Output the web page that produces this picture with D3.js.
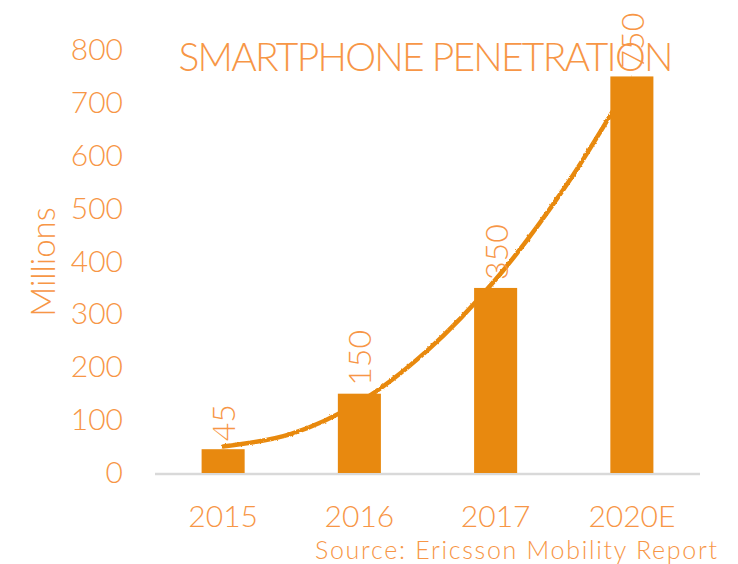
<!DOCTYPE html>
<html>
<head>
<meta charset="utf-8">
<script src="https://cdn.jsdelivr.net/npm/d3@7"></script>
<style>
  body { margin: 0; background: #fff; }
  svg text { font-family: "Century Gothic", Lato, "Open Sans", sans-serif; font-weight: 300; }
</style>
</head>
<body>
<div id="chart"></div>
<script>
var width = 738;
var height = 564;

// chart values
var categories = ["2015", "2016", "2017", "2020E"];
var values = [45, 150, 350, 750];
var yTicks = [0, 100, 200, 300, 400, 500, 600, 700, 800];
// trend line, at half-category steps (0 = 2015 ... 3 = 2020E)
var trendPos = [0, 0.5, 1, 1.5, 2, 2.5, 3];
var trendVals = [50, 74, 134, 232, 366, 537, 745];

var barColor = "#E8890F";
var textColor = "#F79646";
var axisColor = "#D9D9D9";

var plot = { left: 155, right: 700, top: 50, bottom: 473 };

var svg = d3.select("#chart")
    .append("svg")
    .attr("width", width)
    .attr("height", height);

var x = d3.scaleBand()
    .domain(categories)
    .range([plot.left, plot.right])
    .paddingInner(0.684)
    .paddingOuter(0.342);

var y = d3.scaleLinear()
    .domain([0, 800])
    .range([plot.bottom, plot.top]);

// index -> pixel, so the trend line lines up with the bar centres
var xi = d3.scaleLinear()
    .domain([0, categories.length - 1])
    .range([x(categories[0]) + x.bandwidth() / 2, x(categories[categories.length - 1]) + x.bandwidth() / 2]);

// rough edge like the sketched excel trendline
var defs = svg.append("defs");
var rough = defs.append("filter").attr("id", "rough")
    .attr("x", "-5%").attr("y", "-5%").attr("width", "110%").attr("height", "110%");
rough.append("feTurbulence").attr("type", "fractalNoise")
    .attr("baseFrequency", 0.35).attr("numOctaves", 1).attr("seed", 3).attr("result", "n");
rough.append("feDisplacementMap").attr("in", "SourceGraphic").attr("in2", "n")
    .attr("scale", 2.6).attr("xChannelSelector", "R").attr("yChannelSelector", "G");

// title
svg.append("text")
    .attr("x", 426)
    .attr("y", 71)
    .attr("text-anchor", "middle")
    .attr("fill", textColor)
    .style("font-size", "39px")
    .attr("textLength", 495)
    .attr("lengthAdjust", "spacing")
    .text("SMARTPHONE PENETRATION");

// y axis labels only
var yAxis = svg.append("g")
    .attr("transform", "translate(" + plot.left + ",0)")
    .call(d3.axisLeft(y).tickValues(yTicks).tickSize(0).tickPadding(32));
yAxis.select(".domain").remove();
yAxis.selectAll("text")
    .attr("fill", textColor)
    .style("font-size", "30px");

// x axis
var xAxis = svg.append("g")
    .attr("transform", "translate(0," + plot.bottom + ")")
    .call(d3.axisBottom(x).tickSize(0).tickPadding(33));
xAxis.select(".domain").remove();
xAxis.selectAll("text")
    .attr("fill", textColor)
    .style("font-size", "30px");

svg.append("line")
    .attr("x1", plot.left)
    .attr("x2", plot.right)
    .attr("y1", plot.bottom + 1)
    .attr("y2", plot.bottom + 1)
    .attr("stroke", axisColor)
    .attr("stroke-width", 2.5);

// axis title
svg.append("text")
    .attr("transform", "translate(55,262) rotate(-90)")
    .attr("text-anchor", "middle")
    .attr("fill", textColor)
    .style("font-size", "33px")
    .text("Millions");

// trend line
var line = d3.line()
    .x(function (d) { return xi(d[0]); })
    .y(function (d) { return y(d[1]); })
    .curve(d3.curveCatmullRom);

svg.append("path")
    .datum(d3.zip(trendPos, trendVals))
    .attr("d", line)
    .attr("fill", "none")
    .attr("stroke", barColor)
    .attr("stroke-width", 4.5)
    .attr("stroke-linecap", "round")
    .attr("filter", "url(#rough)");

// bars
svg.selectAll("rect.bar")
    .data(values)
    .enter()
    .append("rect")
    .attr("class", "bar")
    .attr("x", function (d, i) { return x(categories[i]); })
    .attr("y", function (d) { return y(d); })
    .attr("width", x.bandwidth())
    .attr("height", function (d) { return y(0) - y(d); })
    .attr("fill", barColor);

// data labels, rotated
svg.selectAll("text.label")
    .data(values)
    .enter()
    .append("text")
    .attr("class", "label")
    .attr("transform", function (d, i) {
        var cx = x(categories[i]) + x.bandwidth() / 2 + 12;
        return "translate(" + cx + "," + (y(d) - 8) + ") rotate(-90)";
    })
    .attr("fill", textColor)
    .style("font-size", "32px")
    .text(function (d) { return d; });

// source note
svg.append("text")
    .attr("x", 717)
    .attr("y", 559)
    .attr("text-anchor", "end")
    .attr("fill", textColor)
    .style("font-size", "25px")
    .attr("textLength", 402)
    .attr("lengthAdjust", "spacing")
    .text("Source: Ericsson Mobility Report");
</script>
</body>
</html>
